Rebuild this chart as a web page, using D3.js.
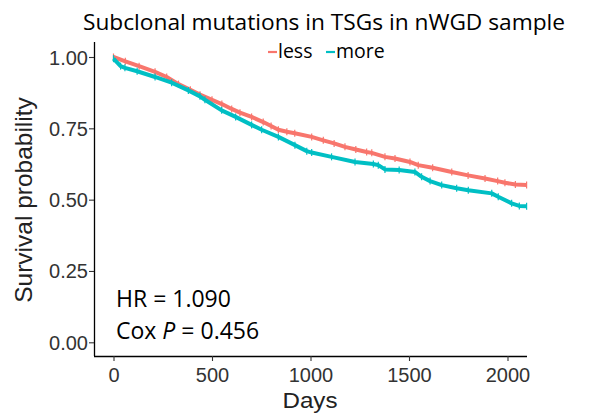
<!DOCTYPE html>
<html><head><meta charset="utf-8">
<script src="https://cdn.jsdelivr.net/npm/d3@7"></script>
<style>body{margin:0;background:#fff}svg{display:block}</style>
</head><body>
<svg id="c" width="590" height="415"></svg>
<script>
const title = "Subclonal mutations in TSGs in nWGD sample";
const groups = ["less", "more"];
const groupColors = ["#F8766D", "#00BFC4"];
const lessDays = [0,60,130,211,270,330,390,439,500,550,600,642,701,760,800,837,880,920,1006,1065,1120,1175,1230,1285,1311,1378,1429,1505,1547,1620,1717,1800,1886,1950,1987,2040,2097];
const lessSurv = [1.00,0.985,0.968,0.948,0.930,0.905,0.885,0.868,0.850,0.835,0.818,0.805,0.790,0.772,0.758,0.745,0.738,0.733,0.720,0.708,0.697,0.685,0.676,0.667,0.664,0.650,0.644,0.632,0.621,0.612,0.597,0.585,0.574,0.565,0.559,0.553,0.551];
const moreDays = [0,36,58,120,211,295,380,439,464,549,620,701,752,837,921,981,1006,1107,1226,1319,1344,1378,1450,1530,1564,1607,1666,1742,1801,1920,1953,2021,2060,2097];
const moreSurv = [0.994,0.968,0.962,0.950,0.930,0.910,0.883,0.862,0.850,0.813,0.790,0.762,0.745,0.720,0.691,0.670,0.665,0.650,0.632,0.625,0.621,0.606,0.604,0.597,0.580,0.565,0.551,0.540,0.533,0.522,0.510,0.487,0.478,0.477];
const xTicks = [0,500,1000,1500,2000];
const yTicks = [0,0.25,0.5,0.75,1];
const annot = {hr: "1.090", p: "0.456"};

const svg = d3.select("#c");
const x = d3.scaleLinear().domain([0,2000]).range([113.5,507.5]);
const y = d3.scaleLinear().domain([0,1]).range([342.3,57]);

const arial = "'Liberation Sans', Arial, sans-serif";
// axes
const xAxis = svg.append("g").attr("transform","translate(0,356)")
  .call(d3.axisBottom(x).tickValues(xTicks).tickSize(5).tickPadding(4).tickFormat(d3.format("d")));
xAxis.select(".domain").attr("d", "M94,0.5H527");
const yAxis = svg.append("g").attr("transform","translate(94,0)")
  .call(d3.axisLeft(y).tickValues(yTicks).tickSize(5).tickPadding(4).tickFormat(d3.format(".2f")));
yAxis.select(".domain").attr("d", "M0.5,42V356");
svg.selectAll(".domain").attr("stroke","#000").attr("stroke-width",1.3);
svg.selectAll(".tick line").attr("stroke","#333").attr("stroke-width",1.1);
svg.selectAll(".tick text").attr("font-family",arial).attr("font-size",20).attr("fill","#333");
xAxis.selectAll(".tick text").attr("dy","0.85em");
yAxis.selectAll(".tick text").attr("dy","0.35em").attr("x",-6);

// axis titles
svg.append("text").attr("x",310).attr("y",408).attr("text-anchor","middle")
  .attr("font-family",arial).attr("font-size",22).attr("fill","#222")
  .attr("textLength",55).attr("lengthAdjust","spacingAndGlyphs").text("Days");
svg.append("text").attr("transform","translate(31.5,200) rotate(-90)").attr("text-anchor","middle")
  .attr("font-family",arial).attr("font-size",24.5).attr("fill","#222").text("Survival probability");

// curves
const series = [
  {name: groups[0], color: groupColors[0], pts: lessDays.map((d,i)=>[d,lessSurv[i]])},
  {name: groups[1], color: groupColors[1], pts: moreDays.map((d,i)=>[d,moreSurv[i]])}
];
const line = d3.line().x(d=>x(d[0])).y(d=>y(d[1])).curve(d3.curveLinear);
series.forEach(s=>{
  const g = svg.append("g");
  g.append("path").attr("d", line(s.pts)).attr("fill","none").attr("stroke",s.color).attr("stroke-width",4).attr("stroke-linejoin","round");
  g.selectAll("line").data(s.pts).enter().append("line")
    .attr("x1",d=>x(d[0])).attr("x2",d=>x(d[0]))
    .attr("y1",d=>y(d[1])-3.5).attr("y2",d=>y(d[1])+3.5)
    .attr("stroke",s.color).attr("stroke-width",1.2);
});

const cal = "'Open Sans', 'Noto Sans', sans-serif";
// title
svg.append("text").attr("x",324).attr("y",30).attr("text-anchor","middle")
  .attr("font-family",cal).attr("font-size",22.5).attr("fill","#000")
  .attr("textLength",482).attr("lengthAdjust","spacingAndGlyphs").text(title);

// legend
const leg = svg.append("g");
const legX = [268, 326];
series.forEach((s,i)=>{
  leg.append("line").attr("x1",legX[i]).attr("x2",legX[i]+9).attr("y1",52).attr("y2",52)
    .attr("stroke",s.color).attr("stroke-width",2.2);
  leg.append("text").attr("x",legX[i]+10).attr("y",58).attr("font-family",cal).attr("font-size",19.5).attr("fill","#000").text(s.name);
});

// annotations
svg.append("text").attr("x",116).attr("y",306.5).attr("font-family",cal).attr("font-size",23).attr("fill","#000").text("HR = " + annot.hr);
const t2 = svg.append("text").attr("x",116).attr("y",338.5).attr("font-family",cal).attr("font-size",23).attr("fill","#000");
t2.append("tspan").text("Cox ");
t2.append("tspan").attr("font-style","italic").text("P");
t2.append("tspan").text(" = " + annot.p);
</script>
</body></html>
